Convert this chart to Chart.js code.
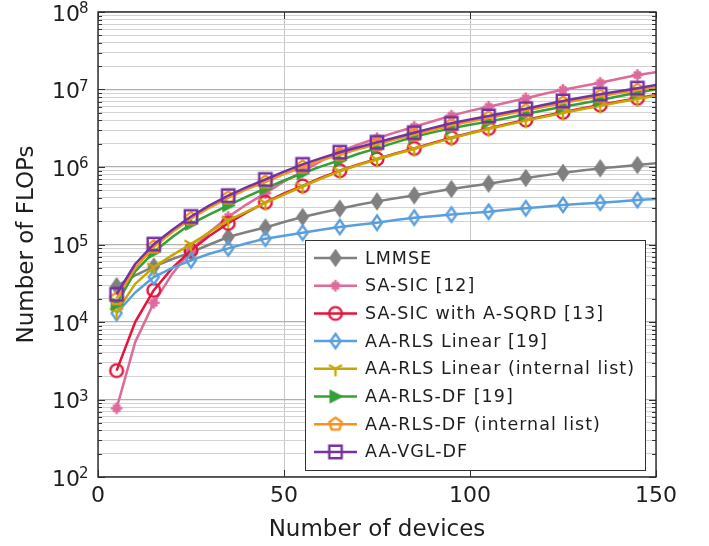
<!DOCTYPE html>
<html>
<head>
<meta charset="utf-8">
<script src="https://cdn.jsdelivr.net/npm/chart.js@4.4.1/dist/chart.umd.min.js"></script>
<style>
    html, body { margin: 0; padding: 0; background: #ffffff; }
    #wrap { width: 709px; height: 546px; }
</style>
</head>
<body>
<div id="wrap"><canvas id="flopsChart" width="709" height="546"></canvas></div>
<script>
// Number of devices (x axis)
const devices = [5, 10, 15, 20, 25, 30, 35, 40, 45, 50, 55, 60, 65, 70, 75, 80, 85, 90, 95, 100,
    105, 110, 115, 120, 125, 130, 135, 140, 145, 150];

// FLOPs per scheme
const lmmse = [2.9e4, 4.0e4, 5.2e4, 6.5e4, 7.9e4, 1.0e5, 1.25e5, 1.45e5, 1.66e5, 1.95e5,
    2.26e5, 2.57e5, 2.9e5, 3.25e5, 3.6e5, 3.95e5, 4.3e5, 4.75e5, 5.2e5, 5.65e5,
    6.1e5, 6.65e5, 7.2e5, 7.8e5, 8.4e5, 9.0e5, 9.6e5, 1.01e6, 1.06e6, 1.12e6];
const saSic = [7.7e2, 5.5e3, 1.77e4, 4.2e4, 8.4e4, 1.45e5, 2.27e5, 3.3e5, 4.6e5, 6.5e5,
    8.8e5, 1.2e6, 1.58e6, 1.95e6, 2.35e6, 2.8e6, 3.3e6, 3.9e6, 4.6e6, 5.3e6,
    6.0e6, 6.8e6, 7.7e6, 8.8e6, 9.9e6, 1.1e7, 1.22e7, 1.38e7, 1.54e7, 1.67e7];
const saSicSqrd = [2.36e3, 1.0e4, 2.57e4, 5.0e4, 8.4e4, 1.3e5, 1.88e5, 2.6e5, 3.5e5, 4.55e5,
    5.7e5, 7.3e5, 8.95e5, 1.08e6, 1.27e6, 1.5e6, 1.74e6, 2.05e6, 2.39e6, 2.75e6,
    3.15e6, 3.6e6, 4.04e6, 4.55e6, 5.08e6, 5.7e6, 6.3e6, 7.0e6, 7.7e6, 8.5e6];
const aaRlsLinear = [1.3e4, 2.4e4, 3.8e4, 5.0e4, 6.25e4, 7.6e4, 8.9e4, 1.04e5, 1.19e5, 1.3e5,
    1.42e5, 1.55e5, 1.68e5, 1.8e5, 1.91e5, 2.07e5, 2.22e5, 2.32e5, 2.43e5, 2.54e5,
    2.65e5, 2.8e5, 2.93e5, 3.08e5, 3.24e5, 3.35e5, 3.46e5, 3.6e5, 3.75e5, 3.86e5];
const aaRlsLinearList = [1.35e4, 3.1e4, 5.1e4, 7.3e4, 1.01e5, 1.45e5, 2.05e5, 2.65e5, 3.45e5, 4.4e5,
    5.6e5, 7.1e5, 8.8e5, 1.06e6, 1.25e6, 1.47e6, 1.71e6, 2.0e6, 2.34e6, 2.7e6,
    3.1e6, 3.5e6, 3.97e6, 4.45e6, 4.98e6, 5.55e6, 6.15e6, 6.85e6, 7.55e6, 8.3e6];
const aaRlsDf = [1.7e4, 4.5e4, 8.0e4, 1.25e5, 1.85e5, 2.45e5, 3.2e5, 4.15e5, 5.3e5, 6.7e5,
    8.3e5, 1.02e6, 1.22e6, 1.48e6, 1.74e6, 2.08e6, 2.46e6, 2.8e6, 3.15e6, 3.5e6,
    3.85e6, 4.3e6, 4.83e6, 5.4e6, 6.0e6, 6.6e6, 7.3e6, 8.2e6, 9.1e6, 1.01e7];
const aaRlsDfList = [2.0e4, 5.0e4, 9.3e4, 1.45e5, 2.15e5, 3.0e5, 4.0e5, 5.2e5, 6.4e5, 8.1e5,
    1.0e6, 1.22e6, 1.45e6, 1.7e6, 1.95e6, 2.27e6, 2.6e6, 3.0e6, 3.45e6, 3.85e6,
    4.3e6, 4.8e6, 5.35e6, 6.0e6, 6.7e6, 7.4e6, 8.2e6, 9.0e6, 9.8e6, 1.07e7];
const aaVglDf = [2.28e4, 5.6e4, 1.01e5, 1.55e5, 2.3e5, 3.2e5, 4.27e5, 5.5e5, 6.9e5, 8.7e5,
    1.08e6, 1.3e6, 1.55e6, 1.8e6, 2.08e6, 2.4e6, 2.77e6, 3.2e6, 3.66e6, 4.1e6,
    4.55e6, 5.1e6, 5.65e6, 6.35e6, 7.1e6, 7.9e6, 8.7e6, 9.5e6, 1.04e7, 1.14e7];

const seriesNames = ['LMMSE', 'SA-SIC [12]', 'SA-SIC with A-SQRD [13]', 'AA-RLS Linear [19]',
    'AA-RLS Linear (internal list)', 'AA-RLS-DF [19]', 'AA-RLS-DF (internal list)', 'AA-VGL-DF'];
const seriesValues = [lmmse, saSic, saSicSqrd, aaRlsLinear, aaRlsLinearList, aaRlsDf, aaRlsDfList, aaVglDf];
const seriesColors = ['#808080', '#dd6a9a', '#e2163c', '#5a9fdc', '#c7a600', '#35a036', '#f7931e', '#7232a4'];
const seriesMarkers = ['diamondFilled', 'asterisk', 'circle', 'diamond', 'triDown', 'triRight', 'pentagon', 'square'];

// axis ticks
const xTicks = [0, 50, 100, 150];
const yExponents = [2, 3, 4, 5, 6, 7, 8];

const FONT = "'DejaVu Sans', sans-serif";
const TEXT = '#1e1e1e';

// every 1..9 x 10^n line between the first and last decade
const yGrid = [];
yExponents.forEach((e, i) => {
    const mults = i === yExponents.length - 1 ? [1] : [1, 2, 3, 4, 5, 6, 7, 8, 9];
    mults.forEach(m => yGrid.push(m * Math.pow(10, e)));
});

function isDecade(v) {
    const l = Math.log10(v);
    return Math.abs(l - Math.round(l)) < 1e-9;
}

function makeMarker(kind, color) {
    const c = document.createElement('canvas');
    c.width = 20;
    c.height = 20;
    const g = c.getContext('2d');
    g.translate(10, 10);
    g.strokeStyle = color;
    g.fillStyle = color;
    g.lineWidth = 2.4;
    g.beginPath();
    switch (kind) {
        case 'diamondFilled':
        case 'diamond':
            g.moveTo(0, -7.2);
            g.lineTo(5, 0);
            g.lineTo(0, 7.2);
            g.lineTo(-5, 0);
            g.closePath();
            if (kind === 'diamondFilled') g.fill();
            g.stroke();
            break;
        case 'asterisk':
            [90, 0, 45, 135].forEach(a => {
                const r = a % 90 === 0 ? 5.8 : 4.8;
                const dx = Math.cos(a * Math.PI / 180) * r;
                const dy = Math.sin(a * Math.PI / 180) * r;
                g.moveTo(-dx, -dy);
                g.lineTo(dx, dy);
            });
            g.lineWidth = 2.6;
            g.stroke();
            break;
        case 'circle':
            g.arc(0, 0, 6.4, 0, Math.PI * 2);
            g.stroke();
            break;
        case 'triDown':
            g.moveTo(0, 0); g.lineTo(0, 7.5);
            g.moveTo(0, 0); g.lineTo(-6.5, -3.8);
            g.moveTo(0, 0); g.lineTo(6.5, -3.8);
            g.stroke();
            break;
        case 'triRight':
            g.moveTo(7, 0);
            g.lineTo(-5.5, -6.5);
            g.lineTo(-5.5, 6.5);
            g.closePath();
            g.fill();
            g.lineWidth = 1;
            g.stroke();
            break;
        case 'pentagon':
            for (let k = 0; k < 5; k++) {
                const a = -Math.PI / 2 + k * 2 * Math.PI / 5;
                const px = Math.cos(a) * 6.6, py = Math.sin(a) * 6.6;
                if (k === 0) g.moveTo(px, py); else g.lineTo(px, py);
            }
            g.closePath();
            g.stroke();
            break;
        case 'square':
            g.rect(-6.2, -6.2, 12.4, 12.4);
            g.stroke();
            break;
    }
    return c;
}

const markerImages = seriesMarkers.map((m, i) => makeMarker(m, seriesColors[i]));

const datasets = seriesNames.map((name, i) => ({
    label: name,
    data: devices.map((d, j) => ({ x: d, y: seriesValues[i][j] })),
    borderColor: seriesColors[i],
    backgroundColor: seriesColors[i],
    borderWidth: 2.5,
    borderJoinStyle: 'round',
    tension: 0,
    fill: false,
    pointStyle: markerImages[i],
    // markers only on every other sample (5, 15, 25, ...)
    pointRadius: ctx => (ctx.dataIndex % 2 === 0 ? 6 : 0),
    pointHoverRadius: 0,
    order: seriesNames.length - i
}));

const framePlugin = {
    id: 'frame',
    beforeDraw(chart) {
        const ctx = chart.ctx;
        ctx.save();
        ctx.fillStyle = '#ffffff';
        ctx.fillRect(0, 0, chart.width, chart.height);
        ctx.restore();
    },
    afterDraw(chart) {
        const ctx = chart.ctx;
        const area = chart.chartArea;
        const xs = chart.scales.x;
        const ys = chart.scales.y;
        ctx.save();

        // minor/major tick marks pointing inwards
        ctx.strokeStyle = '#333333';
        ctx.lineWidth = 1;
        yGrid.forEach(v => {
            const py = Math.round(ys.getPixelForValue(v)) + 0.5;
            const len = isDecade(v) ? 7 : 4;
            ctx.beginPath();
            ctx.moveTo(area.left, py); ctx.lineTo(area.left + len, py);
            ctx.moveTo(area.right, py); ctx.lineTo(area.right - len, py);
            ctx.stroke();
        });
        xTicks.forEach(v => {
            const px = Math.round(xs.getPixelForValue(v)) + 0.5;
            ctx.beginPath();
            ctx.moveTo(px, area.bottom); ctx.lineTo(px, area.bottom - 7);
            ctx.moveTo(px, area.top); ctx.lineTo(px, area.top + 7);
            ctx.stroke();
        });

        // plot box
        ctx.strokeStyle = '#2a2a2a';
        ctx.lineWidth = 1.4;
        ctx.strokeRect(area.left, area.top, area.right - area.left, area.bottom - area.top);

        // y tick labels 10^n
        ctx.fillStyle = TEXT;
        yExponents.forEach(e => {
            const py = ys.getPixelForValue(Math.pow(10, e));
            ctx.font = '22px ' + FONT;
            ctx.textAlign = 'right';
            ctx.textBaseline = 'middle';
            ctx.fillText('10', 80, py + 3);
            ctx.font = '15px ' + FONT;
            ctx.textAlign = 'left';
            ctx.textBaseline = 'alphabetic';
            ctx.fillText(String(e), 79, py + 1);
        });

        // legend box
        const lx = 305, ly = 240, lw = 340, lh = 230;
        ctx.fillStyle = '#ffffff';
        ctx.fillRect(lx, ly, lw, lh);
        ctx.strokeStyle = '#333333';
        ctx.lineWidth = 1;
        ctx.strokeRect(lx + 0.5, ly + 0.5, lw, lh);
        ctx.font = '17.5px ' + FONT;
        if ('letterSpacing' in ctx) ctx.letterSpacing = '1px';
        ctx.textAlign = 'left';
        ctx.textBaseline = 'middle';
        seriesNames.forEach((name, i) => {
            const cy = 258 + i * 27.7;
            ctx.strokeStyle = seriesColors[i];
            ctx.lineWidth = 2.5;
            ctx.beginPath();
            ctx.moveTo(314, cy);
            ctx.lineTo(357, cy);
            ctx.stroke();
            const img = markerImages[i];
            ctx.drawImage(img, 335.5 - img.width / 2, cy - img.height / 2);
            ctx.fillStyle = TEXT;
            ctx.fillText(name, 365, cy + 1);
        });
        ctx.restore();
    }
};

new Chart(document.getElementById('flopsChart'), {
    type: 'line',
    data: { datasets: datasets },
    options: {
        responsive: false,
        devicePixelRatio: 1,
        animation: false,
        events: [],
        layout: { padding: { top: 12, right: 53, left: 0, bottom: 0 } },
        plugins: {
            legend: { display: false },
            tooltip: { enabled: false }
        },
        scales: {
            x: {
                type: 'linear',
                min: 0,
                max: 150,
                afterBuildTicks: scale => { scale.ticks = xTicks.map(v => ({ value: v })); },
                afterFit: scale => { scale.height = 69; },
                ticks: {
                    font: { family: FONT, size: 22 },
                    color: TEXT,
                    padding: 6,
                    maxRotation: 0,
                    autoSkip: false
                },
                grid: { color: '#c6c6c6', lineWidth: 1, drawTicks: false },
                border: { display: false },
                title: {
                    display: true,
                    text: 'Number of devices',
                    font: { family: FONT, size: 23 },
                    color: TEXT,
                    padding: { top: 0, bottom: 2 }
                }
            },
            y: {
                type: 'logarithmic',
                min: 100,
                max: 1e8,
                afterBuildTicks: scale => { scale.ticks = yGrid.map(v => ({ value: v, major: isDecade(v) })); },
                afterFit: scale => { scale.width = 98; },
                ticks: { display: false, autoSkip: false },
                grid: {
                    color: ctx => (ctx.tick && isDecade(ctx.tick.value) ? '#b0b0b0' : '#d2d2d2'),
                    lineWidth: ctx => (ctx.tick && isDecade(ctx.tick.value) ? 1.2 : 1),
                    drawTicks: false
                },
                border: { display: false },
                title: {
                    display: true,
                    text: 'Number of FLOPs',
                    font: { family: FONT, size: 23 },
                    color: TEXT,
                    padding: { top: 13, bottom: 0 }
                }
            }
        }
    },
    plugins: [framePlugin]
});
</script>
</body>
</html>
